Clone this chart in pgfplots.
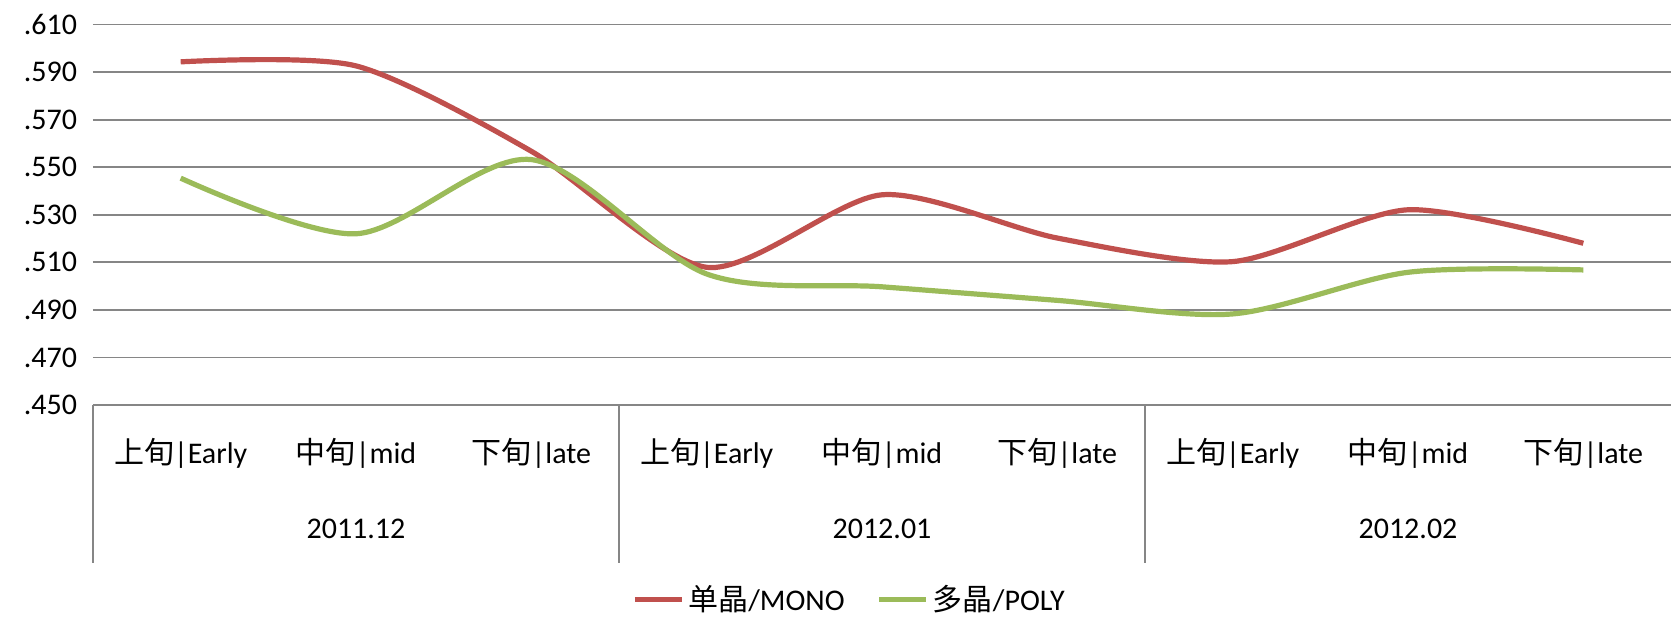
\documentclass[border=0pt]{standalone}
\usepackage{pgfplots}
\pgfplotsset{compat=1.18}
\usepackage{fontspec}
\setmainfont{Carlito}
\newfontfamily\cjk{Noto Sans CJK SC}
\definecolor{monored}{HTML}{C0504D}
\definecolor{polygreen}{HTML}{9BBB59}
\definecolor{gridgray}{HTML}{868686}
\begin{document}
\begin{tikzpicture}[font=\fontsize{15pt}{18pt}\selectfont]
\begin{axis}[
  at={(0,0)}, anchor=south west,
  scale only axis, width=789pt, height=190.25pt,
  xmin=-0.5, xmax=8.5, ymin=0.45, ymax=0.61,
  clip=false,
  axis line style={draw=none},
  ymajorgrids, grid style={gridgray, line width=0.9pt},
  ytick={0.45,0.47,0.49,0.51,0.53,0.55,0.57,0.59,0.61},
  yticklabels={.450,.470,.490,.510,.530,.550,.570,.590,.610},
  xtick={0,1,2,3,4,5,6,7,8},
  xticklabels={{\cjk 上旬}|Early,{\cjk 中旬}|mid,{\cjk 下旬}|late,{\cjk 上旬}|Early,{\cjk 中旬}|mid,{\cjk 下旬}|late,{\cjk 上旬}|Early,{\cjk 中旬}|mid,{\cjk 下旬}|late},
  extra x ticks={1,4,7},
  extra x tick labels={2011.12,2012.01,2012.02},
  extra x tick style={xticklabel style={yshift=-37.9pt}},
  major tick length=0pt,
  tick style={draw=none},
  tick label style={font=\fontsize{15pt}{18pt}\selectfont},
  yticklabel style={inner xsep=0pt, xshift=-7.8pt},
  xticklabel style={anchor=center, yshift=-24.2pt},
  legend style={at={(0.48,-0.512)}, anchor=center, draw=none, fill=none,
    legend columns=2, font=\fontsize{15pt}{18pt}\selectfont,
    /tikz/every even column/.append style={column sep=14pt},
    inner sep=0pt, cells={anchor=west}},
  legend image code/.code={\draw[#1] (0pt,0pt) -- (23.5pt,0pt);},
]
\addplot[monored, line width=2.6pt, smooth, tension=0.45] coordinates {
  (0,0.5943) (1,0.5926) (2,0.5567) (3,0.5079) (4,0.5384)
  (5,0.5202) (6,0.5103) (7,0.5321) (8,0.5180)};
\addlegendentry{{\cjk 单晶}/MONO}
\addplot[polygreen, line width=2.6pt, smooth, tension=0.5] coordinates {
  (0,0.5454) (1,0.5220) (2,0.5532) (3,0.5051) (4,0.4997)
  (5,0.4940) (6,0.4883) (7,0.5058) (8,0.5068)};
\addlegendentry{{\cjk 多晶}/POLY}
\draw[gridgray, line width=0.6pt] (axis cs:-0.5,0.45) -- ++(0pt,-79pt);
\draw[gridgray, line width=0.6pt] (axis cs:2.5,0.45) -- ++(0pt,-79pt);
\draw[gridgray, line width=0.6pt] (axis cs:5.5,0.45) -- ++(0pt,-79pt);
\end{axis}
\pgfresetboundingbox
\useasboundingbox (-46.5pt,-106.5pt) rectangle (789pt,202.5pt);
\end{tikzpicture}
\end{document}
